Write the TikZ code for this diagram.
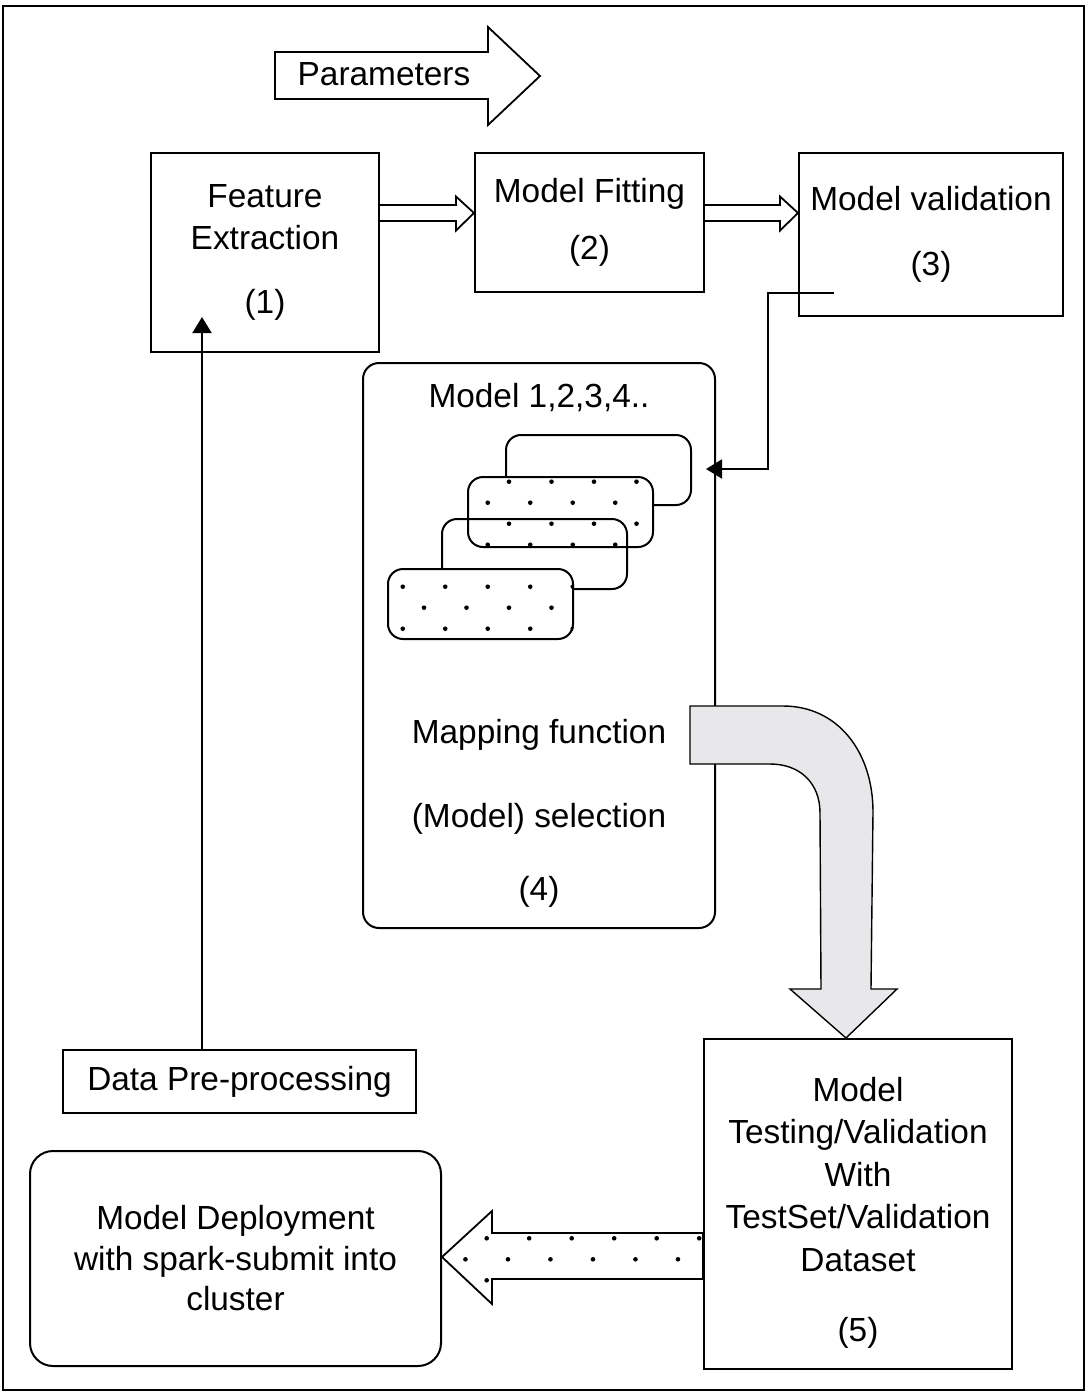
\documentclass[tikz,border=0pt]{standalone}
\usepackage{fontspec}
\setmainfont{Liberation Sans}
\usetikzlibrary{arrows.meta, positioning, calc}

\definecolor{bendgray}{RGB}{232,231,233}

% staggered grid of dots: first dot x, first row y, last row index
\newcommand{\dotgrid}[3]{%
  \foreach \k in {0,...,#3}{
    \foreach \m in {0,...,14}{
      \fill ({#1+42.5*\m+21.25*mod(\k,2)}, {#2+21*\k}) circle (2.3);
    }
  }}

\begin{document}
\begin{tikzpicture}[
    x=0.5pt, y=-0.5pt,
    font=\fontsize{16.7}{21.25}\selectfont,
    box/.style={
        rectangle, draw, line width=1pt, fill=white,
        align=center, inner sep=0pt
    },
    roundbox/.style={box, rounded corners=#1},
    roundbox/.default=8pt,
    card/.style={
        rectangle, draw, line width=1pt, rounded corners=7.5pt,
        minimum width=92.5pt, minimum height=35pt
    },
    hollow/.style={draw, fill=white, line width=0.9pt},
    bent/.style={draw, fill=bendgray, line width=0.7pt},
    arrow/.style={-{Triangle[length=8pt, width=9.5pt]}, line width=1pt}
]
\useasboundingbox (0,0) rectangle (1087,1393);

% Outer frame
\draw[line width=1.2pt] (3,6) rectangle (1084,1390);

% Parameters arrow
\draw[hollow] (275,52) -- (488,52) -- (488,27) -- (540,76) -- (488,125) -- (488,99) -- (275,99) -- cycle;
\node (params) at (384,74) {Parameters};

% Top row of boxes
\node[box, minimum width=114pt, minimum height=99.5pt] (fe) at (265,252.5)
    {Feature\\Extraction\\[10.75pt](1)};
\node[box, minimum width=114.5pt, minimum height=69.5pt] (mf) at (589.5,222.5)
    {Model Fitting\\[7.5pt](2)};
\node[box, minimum width=132pt, minimum height=81.5pt] (mv) at (931,234.5)
    {Model validation\\[11pt](3)};

% Hollow arrows between the top boxes
\draw[hollow] (fe.east |- 0,205) -- ($(mf.west |- 0,205)+(-18,0)$) -- ++(0,-8.5)
    -- (mf.west |- 0,213) -- ++(-18,17.5) -- ++(0,-9.5) -- (fe.east |- 0,221);
\draw[hollow] (mf.east |- 0,205) -- ($(mv.west |- 0,205)+(-18,0)$) -- ++(0,-8.5)
    -- (mv.west |- 0,213) -- ++(-18,17.5) -- ++(0,-9.5) -- (mf.east |- 0,221);

% Model selection box
\node[roundbox, minimum width=176pt, minimum height=282.5pt] (m4) at (539,645.5)
    {Model 1,2,3,4..\\[146.75pt]Mapping function\\[20.75pt](Model) selection\\[15.25pt](4)};

% Stack of model cards
\node[card, fill=white] (card1) at (598.5,470) {};
\node[card, fill=white] (card2) at (560.5,512) {};
\begin{scope}
    \clip[rounded corners=7.5pt] (card2.south west) rectangle (card2.north east);
    \dotgrid{466.5}{481.7}{3}
\end{scope}
\node[card] (card3) at (534.5,554) {};
\node[card, fill=white] (card4) at (480.5,604) {};
\begin{scope}
    \clip[rounded corners=7.5pt] (card4.south west) rectangle (card4.north east);
    \dotgrid{402.75}{586.7}{2}
\end{scope}

% Validation feeds back into the model set
\coordinate (valout) at ($(mv.south west)+(36,-24)$);
\coordinate (m4in) at ($(m4.north east)+(-10,107)$);
\draw[arrow] (valout) -- ++(-66,0) |- (m4in);

% Bottom boxes
\node[box, minimum width=154pt, minimum height=165pt] (m5) at (858,1204)
    {\rule{0pt}{21pt}Model\\Testing/Validation\\With\\TestSet/Validation\\Dataset\\[14pt](5)};
\node[roundbox=11.5pt, minimum width=205.5pt, minimum height=107.5pt] (dep) at (235.5,1258.5)
    {Model Deployment\\[-1pt]with spark-submit into\\[-1pt]cluster};
\node[box, minimum width=176.5pt, minimum height=31.5pt] (dpp) at (239.5,1081.5)
    {Data Pre-processing};

% Bent arrow from selection to testing
\draw[bent] (690,706) -- (783,706) .. controls (838,706) and (873,752) .. (873,812)
    -- (871,989) -- (897,989) -- ($(m5.north)+(-12,0)$) -- (790,989) -- (821,989)
    -- (820,813) .. controls (820,783) and (800,764) .. (770,764) -- (690,764) -- cycle;

% Dotted arrow towards deployment
\path[hollow, save path=\deploypath] (m5.west |- 0,1233) -- (492,1233) -- (492,1211)
    -- (dep.east |- 0,1257) -- (492,1304) -- (492,1279) -- (m5.west |- 0,1279) -- cycle;
\begin{scope}
    \clip[use path=\deploypath];
    \dotgrid{444.2}{1238.3}{2}
\end{scope}

% Pre-processing feeds feature extraction
\coordinate (fein) at ($(fe.south west)+(52,-36)$);
\draw[arrow] (dpp.north -| fein) -- (fein);

\end{tikzpicture}
\end{document}
